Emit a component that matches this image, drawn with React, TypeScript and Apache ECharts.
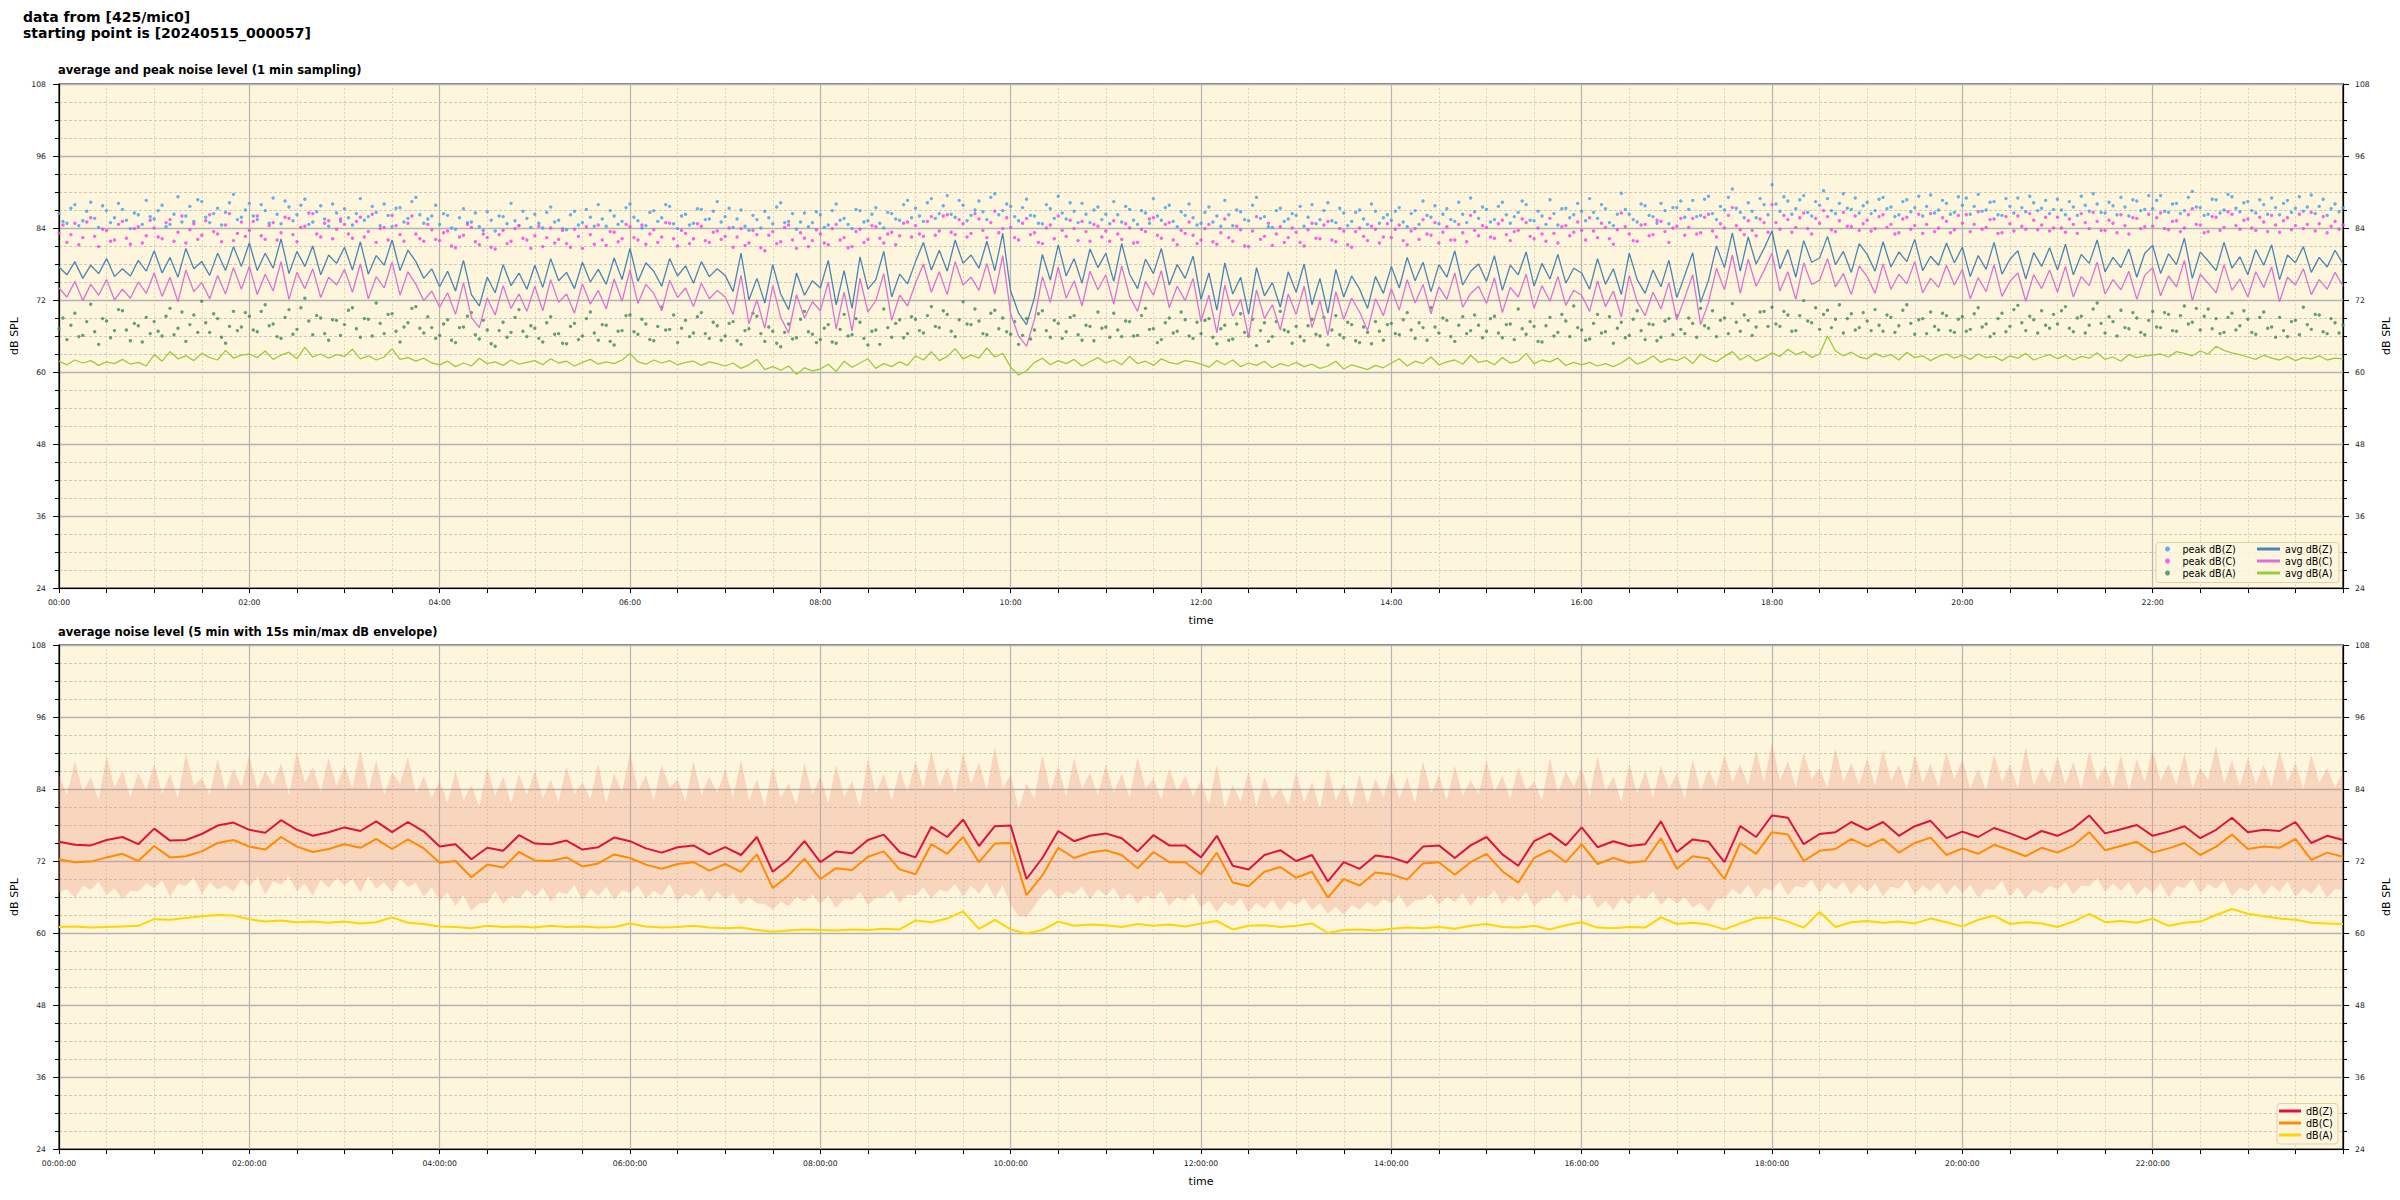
import React, { useEffect, useRef } from 'react';
import * as echarts from 'echarts';

const FONT = 'DejaVu Sans';

// ---- top chart: 1-min averages read every 5 min (00:00 .. 24:00) ----
const avgZ = [
  77.5, 76.2, 78.4, 75.6, 77.8, 76.4, 78.9, 75.9, 77.2, 76.0, 78.6, 76.8,
  80.2, 76.5, 79.1, 75.8, 80.6, 77.2, 78.4, 76.1, 79.8, 76.9, 80.9, 77.6,
  81.5, 76.9, 79.8, 77.3, 82.2, 76.4, 80.1, 77.6, 81.0, 76.2, 79.5, 78.1,
  80.8, 77.0, 81.7, 76.3, 79.4, 77.8, 82.0, 76.9, 80.3, 78.4, 75.6, 77.2,
  74.2, 76.8, 73.5, 78.6, 72.9, 71.0, 75.8, 73.2, 77.9, 74.4, 76.5, 73.8,
  77.8, 74.1, 78.9, 75.2, 76.6, 73.9, 78.3, 75.0, 77.1, 74.6, 79.0, 75.4,
  80.6, 75.1, 78.2, 76.8, 74.3, 78.9, 76.0, 77.7, 74.8, 78.4, 75.9, 77.2,
  76.1, 73.4, 79.8, 72.0, 75.6, 71.5, 77.9, 73.0, 70.4, 76.5, 72.8, 75.2,
  74.0, 78.6, 71.2, 76.9, 70.6, 79.2, 73.8, 75.4, 80.1, 72.5, 76.3, 74.7,
  78.4, 81.6, 77.0, 80.3, 76.8, 82.0, 78.1, 79.5, 77.3, 81.8, 76.9, 83.1,
  73.5, 69.8, 67.9, 72.4, 79.6, 75.3, 81.2, 76.0, 78.9, 74.8, 80.5, 77.4,
  79.8, 75.1, 81.4, 76.3, 73.9, 78.8, 76.4, 80.6, 74.5, 77.9, 75.6, 79.3,
  72.1, 76.5, 70.3, 78.2, 73.0, 75.8, 69.6, 77.4, 72.7, 74.9, 70.8, 76.7,
  73.3, 78.0, 71.2, 75.6, 69.8, 77.1, 72.5, 76.0, 73.8, 70.6, 75.9, 73.1,
  77.6, 74.0, 79.1, 75.2, 78.3, 73.4, 77.9, 75.8, 80.2, 74.5, 76.8, 78.0,
  75.1, 79.4, 73.6, 77.8, 76.2, 80.0, 74.3, 78.1, 75.5, 79.6, 74.8, 77.3,
  76.5, 73.8, 78.9, 74.6, 77.2, 72.9, 79.8, 75.4, 73.1, 77.0, 74.2, 78.6,
  72.4, 76.1, 79.9, 71.6, 75.3, 81.0, 77.4, 83.2, 76.8, 82.5, 78.0, 80.6,
  83.5, 77.2, 80.4, 75.8, 81.9, 78.3, 79.0, 82.6, 77.9, 80.1, 76.6, 81.4,
  79.6, 76.8, 81.7, 77.5, 80.0, 78.4, 82.1, 76.9, 79.3, 77.8, 81.5, 78.2,
  80.8, 75.9, 79.4, 77.1, 81.6, 76.3, 78.8, 80.2, 75.5, 79.9, 77.6, 80.7,
  77.0, 81.3, 76.2, 79.6, 78.1, 82.0, 76.7, 79.1, 77.4, 80.5, 75.8, 79.8,
  81.1, 76.4, 79.7, 77.9, 82.3, 75.6, 80.0, 78.5, 76.9, 81.6, 77.3, 79.2,
  76.2, 80.4, 77.8, 81.2, 75.4, 79.5, 78.2, 80.9, 76.6, 79.1, 77.5, 80.3,
  78.0,
];
const avgC = [
  74.0, 72.5, 75.1, 71.9, 74.6, 72.8, 75.4, 72.0, 73.8, 72.3, 75.0, 73.1,
  76.5, 72.6, 75.8, 71.7, 77.0, 73.4, 74.9, 72.2, 76.1, 73.0, 77.4, 73.8,
  77.6, 72.9, 76.3, 73.5, 78.4, 72.1, 76.6, 73.9, 77.2, 72.4, 75.8, 74.5,
  77.1, 73.3, 78.0, 72.2, 75.9, 74.0, 78.3, 72.8, 76.7, 74.6, 71.9, 73.5,
  70.8, 73.2, 69.6, 74.9, 69.1, 67.4, 72.3, 69.5, 74.4, 70.6, 73.0, 70.1,
  74.3, 70.2, 75.4, 71.6, 73.0, 69.8, 74.7, 71.3, 73.6, 70.5, 75.5, 71.8,
  77.0, 71.4, 74.6, 73.1, 70.2, 75.3, 72.4, 74.0, 70.9, 74.8, 72.2, 73.6,
  72.5, 69.6, 76.1, 68.0, 72.0, 67.3, 74.4, 69.1, 66.5, 72.9, 69.0, 71.7,
  70.2, 75.0, 67.2, 73.3, 66.8, 75.6, 70.0, 71.9, 76.4, 68.6, 72.8, 71.0,
  74.8, 78.0, 73.3, 76.7, 72.9, 78.4, 74.5, 75.8, 73.6, 78.1, 73.0, 79.4,
  69.7, 66.0, 64.3, 68.8, 75.9, 71.6, 77.5, 72.3, 75.2, 71.0, 76.8, 73.7,
  76.2, 71.3, 77.7, 72.6, 70.1, 75.1, 72.8, 76.9, 70.7, 74.3, 71.9, 75.6,
  68.4, 72.8, 66.5, 74.5, 69.3, 72.1, 65.8, 73.7, 68.9, 71.2, 67.0, 73.0,
  69.6, 74.3, 67.4, 71.9, 66.1, 73.4, 68.8, 72.3, 70.0, 66.9, 72.2, 69.4,
  73.9, 70.3, 75.4, 71.5, 74.6, 69.7, 74.2, 72.1, 76.5, 70.8, 73.1, 74.3,
  71.4, 75.7, 69.9, 74.1, 72.5, 76.3, 70.6, 74.4, 71.8, 75.9, 71.1, 73.6,
  72.8, 70.1, 75.2, 70.9, 73.5, 69.2, 76.1, 71.7, 69.4, 73.3, 70.5, 74.9,
  68.7, 72.4, 76.2, 67.9, 71.6, 77.3, 73.7, 79.5, 73.1, 78.8, 74.3, 76.9,
  79.8, 73.5, 76.7, 72.1, 78.2, 74.6, 75.3, 78.9, 74.2, 76.4, 72.9, 77.7,
  75.9, 73.1, 78.0, 73.8, 76.3, 74.7, 78.4, 73.2, 75.6, 74.1, 77.8, 74.5,
  77.1, 72.2, 75.7, 73.4, 77.9, 72.6, 75.1, 76.5, 71.8, 76.2, 73.9, 77.0,
  73.3, 77.6, 72.5, 75.9, 74.4, 78.3, 73.0, 75.4, 73.7, 76.8, 72.1, 76.1,
  77.4, 72.7, 76.0, 74.2, 78.6, 71.9, 76.3, 74.8, 73.2, 77.9, 73.6, 75.5,
  72.5, 76.7, 74.1, 77.5, 71.7, 75.8, 74.5, 77.2, 72.9, 75.4, 73.8, 76.6,
  74.3,
];
const avgA = [
  61.8, 61.2, 62.0, 61.5, 61.9, 61.1, 61.7, 61.4, 62.1, 61.3, 61.6, 61.0,
  62.9, 61.8, 63.4, 62.2, 62.7, 61.9, 63.1, 62.4, 62.0, 63.6, 62.3, 62.8,
  63.0, 62.4, 63.5, 62.1, 62.8, 63.3, 62.2, 64.1, 62.5, 63.0, 62.3, 62.9,
  62.6, 63.8, 62.2, 62.7, 62.0, 62.5, 63.9, 62.1, 62.4, 61.8, 62.3, 61.5,
  61.2, 61.8, 60.9, 61.5, 61.0, 62.3, 61.4, 61.7, 61.1, 62.0, 61.3, 61.6,
  61.9, 61.2, 62.2, 61.5, 61.8, 61.0, 61.6, 62.1, 61.3, 61.7, 61.4, 62.0,
  63.1, 61.7, 61.3, 62.0, 61.5, 61.9, 61.2, 61.6, 61.8, 61.1, 61.7, 61.4,
  61.0, 61.5, 60.6, 61.2, 62.1, 60.4, 60.9, 60.3, 61.0, 59.6, 60.7, 60.2,
  60.5, 61.3, 60.1, 61.8, 60.8, 61.5, 62.2, 60.6, 61.4, 60.9, 61.7, 61.1,
  62.7, 62.0, 63.4, 61.9, 62.6, 63.9, 62.2, 62.8, 62.3, 64.0, 62.5, 63.1,
  60.8, 59.5, 60.2, 61.6, 62.3, 61.2, 61.9, 61.4, 62.1, 61.0, 61.7, 62.4,
  61.5, 62.0, 61.2, 62.6, 61.4, 61.8, 61.1, 62.2, 61.6, 61.3, 61.9, 61.7,
  61.3, 60.8, 61.9, 61.2, 62.0, 60.9, 61.5, 61.1, 61.8, 60.7, 61.4, 61.0,
  61.6, 60.9, 61.3, 60.6, 61.0, 61.8, 60.5, 61.2, 60.8, 60.4, 61.1, 60.7,
  61.5, 62.2, 61.0, 61.8, 61.4, 62.5, 61.2, 61.7, 62.0, 61.3, 62.8, 61.6,
  61.9, 61.2, 62.4, 61.5, 61.8, 63.1, 61.4, 62.0, 61.7, 62.3, 61.1, 61.6,
  61.2, 61.6, 61.0, 61.4, 60.9, 61.5, 62.4, 61.3, 61.8, 62.7, 61.6, 62.2,
  61.9, 62.5, 61.4, 63.0, 62.2, 61.7, 62.6, 63.4, 62.0, 62.8, 61.8, 62.4,
  63.2, 62.6, 63.8, 62.9, 63.4, 62.4, 63.0, 66.0, 63.5, 62.7, 63.3, 62.5,
  62.2, 63.1, 62.5, 62.9, 62.0, 63.3, 62.4, 62.7, 61.9, 62.6, 63.0, 62.3,
  62.8, 62.1, 63.0, 62.4, 62.6, 61.9, 62.7, 62.3, 63.1, 62.0, 62.5, 62.9,
  62.2, 62.8, 62.0, 62.6, 62.3, 63.2, 62.1, 62.5, 61.8, 62.9, 62.4, 62.7,
  62.8, 63.0, 62.5, 63.4, 63.1, 62.7, 63.5, 63.0, 64.3, 63.6, 63.2, 62.9,
  62.5, 62.1, 62.8, 62.3, 62.0, 62.6, 61.9, 62.4, 62.2, 62.7, 62.0, 62.3,
  62.2,
];

// ---- top chart: 1-min peaks read every 2.5 min ----
const peakZ = [
  86.4, 85.1, 84.8, 87.3, 87.9, 84.4, 85.2, 86.8, 88.3, 85.6, 84.1, 87.7, 86.9, 84.9, 85.7, 88.1, 87.1, 85.3, 83.9, 86.5, 86.2, 84.6, 88.6, 85.9,
  85.5, 86.9, 87.8, 84.2, 84.6, 86.3, 89.2, 85.0, 86.0, 87.6, 85.1, 88.7, 88.4, 85.8, 84.9, 86.4, 87.3, 84.5, 86.6, 88.2, 89.6, 85.4, 85.8, 87.0,
  88.1, 86.0, 85.4, 87.9, 86.9, 84.8, 89.0, 86.3, 84.7, 88.5, 87.5, 85.2, 86.2, 87.8, 88.8, 84.6, 85.0, 86.7, 87.7, 85.5, 84.3, 88.0, 86.5, 85.1,
  87.2, 85.7, 84.5, 86.4, 88.9, 85.3, 85.9, 87.6, 86.6, 84.4, 88.0, 86.1, 84.2, 87.3, 87.4, 85.0, 85.6, 88.4, 89.1, 86.2, 84.8, 85.5, 86.0, 87.8,
  84.6, 86.4, 86.1, 84.0, 83.8, 85.7, 87.2, 84.9, 85.0, 86.5, 84.2, 83.6, 86.7, 85.3, 83.5, 86.0, 85.9, 84.7, 88.1, 85.2, 84.4, 86.8, 85.6, 84.1,
  86.3, 84.8, 84.0, 86.6, 87.5, 85.0, 85.3, 83.9, 83.7, 86.2, 86.8, 84.5, 84.9, 87.1, 85.8, 84.3, 87.9, 85.5, 84.3, 86.9, 86.0, 84.6, 85.1, 87.4,
  88.0, 85.8, 85.2, 84.0, 84.4, 86.6, 86.9, 85.1, 85.7, 87.9, 87.6, 84.7, 83.9, 86.0, 86.3, 84.5, 84.8, 87.2, 87.1, 85.4, 85.5, 86.8, 88.4, 85.0,
  85.9, 87.3, 84.1, 85.5, 87.0, 84.3, 83.6, 86.1, 85.4, 84.0, 86.8, 85.7, 84.7, 87.5, 88.2, 84.9, 85.1, 86.4, 83.8, 85.0, 86.5, 84.2, 84.9, 86.7,
  86.2, 84.1, 84.5, 86.9, 88.0, 85.3, 85.6, 84.6, 83.9, 87.1, 86.9, 85.0, 85.2, 86.3, 87.4, 84.8, 84.0, 86.6, 86.4, 85.5, 85.3, 87.9, 88.6, 85.7,
  87.3, 86.0, 85.1, 88.2, 88.9, 85.6, 86.4, 87.7, 89.4, 86.3, 85.8, 88.6, 87.8, 85.2, 86.1, 87.0, 88.5, 86.7, 85.4, 89.1, 89.7, 86.2, 86.9, 88.0,
  87.6, 85.9, 85.2, 87.4, 88.8, 86.1, 86.0, 84.8, 84.7, 87.9, 87.2, 85.6, 89.3, 86.5, 85.5, 88.2, 86.8, 84.9, 88.1, 86.3, 84.9, 87.0, 87.5, 85.4,
  86.3, 84.7, 88.4, 86.2, 85.0, 87.6, 87.1, 85.3, 84.6, 86.9, 86.5, 84.8, 88.9, 86.0, 85.3, 87.4, 87.8, 85.1, 84.2, 86.7, 86.1, 88.0, 85.7, 84.5,
  84.8, 86.6, 87.5, 85.0, 86.0, 84.3, 88.6, 86.2, 84.4, 87.0, 86.7, 85.4, 85.2, 87.8, 89.1, 85.6, 85.9, 84.2, 84.1, 86.9, 87.3, 85.1, 85.5, 86.4,
  86.1, 87.6, 84.3, 85.8, 87.9, 84.7, 85.4, 86.9, 88.2, 85.2, 84.9, 87.3, 86.5, 84.4, 85.1, 86.6, 87.0, 85.5, 84.6, 88.0, 86.8, 84.8, 85.7, 86.2,
  85.3, 86.8, 87.4, 85.0, 84.2, 86.4, 86.9, 84.6, 88.5, 86.1, 85.8, 87.7, 84.7, 86.3, 87.2, 85.4, 85.1, 88.3, 86.3, 84.9, 89.0, 86.7, 85.6, 87.5,
  87.1, 85.0, 85.4, 87.6, 88.3, 86.2, 84.8, 85.9, 86.6, 88.5, 87.9, 85.3, 85.2, 86.8, 86.0, 84.6, 88.7, 86.4, 84.5, 87.2, 87.3, 85.7, 86.2, 88.1,
  86.8, 85.2, 88.9, 86.6, 85.6, 87.9, 87.2, 84.9, 84.4, 86.3, 89.8, 87.1, 86.3, 85.4, 85.0, 88.0, 87.7, 86.1, 85.9, 84.8, 88.1, 86.9, 84.7, 87.4,
  87.4, 88.5, 85.8, 87.1, 88.6, 85.9, 86.1, 88.8, 89.3, 86.4, 85.4, 87.6, 87.0, 89.1, 90.5, 87.3, 86.6, 85.7, 88.2, 86.8, 85.7, 88.9, 87.9, 86.2,
  91.2, 88.0, 86.8, 89.2, 88.5, 86.3, 87.2, 88.7, 89.4, 86.6, 86.0, 88.4, 87.8, 90.2, 88.9, 86.9, 86.4, 88.1, 89.7, 87.3, 87.1, 89.0, 86.5, 87.7,
  88.3, 86.4, 86.9, 88.8, 89.1, 87.2, 87.5, 85.9, 86.2, 88.4, 88.7, 86.7, 87.4, 89.3, 86.0, 87.6, 89.5, 86.5, 87.0, 88.6, 88.1, 86.3, 86.6, 89.2,
  87.8, 89.0, 86.3, 87.6, 89.6, 86.8, 87.0, 88.3, 88.4, 86.2, 86.1, 88.9, 87.6, 86.5, 89.0, 87.4, 86.7, 89.3, 88.2, 86.9, 87.3, 88.6, 86.4, 87.1,
  88.8, 87.0, 86.2, 88.4, 87.5, 86.1, 89.3, 87.8, 86.8, 89.7, 88.0, 86.6, 86.5, 88.3, 87.7, 86.2, 89.1, 87.5, 86.0, 88.7, 88.5, 86.9, 87.1, 89.4,
  87.2, 88.6, 89.4, 86.8, 86.6, 88.0, 88.1, 86.4, 86.9, 89.1, 90.1, 87.5, 87.4, 86.1, 86.3, 88.8, 88.7, 86.5, 87.0, 89.6, 89.2, 87.3, 86.7, 88.2,
  88.4, 86.9, 86.5, 88.7, 87.9, 86.3, 89.0, 87.4, 86.2, 88.1, 88.6, 86.6, 87.3, 89.2, 86.8, 87.5, 89.5, 86.4, 87.6, 88.8, 86.1, 87.2, 88.0, 86.7,
  87.4,
];
const peakC = [
  83.1, 84.5, 81.6, 82.9, 84.8, 81.2, 82.4, 85.0, 85.7, 82.6, 80.9, 83.8, 83.6, 81.8, 82.0, 84.6, 85.1, 82.3, 81.3, 83.9, 84.2, 81.5, 82.7, 85.3,
  84.0, 82.5, 82.2, 84.9, 85.4, 81.8, 83.3, 86.0, 81.5, 83.7, 84.7, 82.1, 82.8, 85.2, 86.2, 83.4, 83.0, 81.7, 84.5, 86.4, 81.9, 83.1, 85.0, 82.6,
  83.6, 85.1, 86.0, 82.7, 82.1, 84.4, 84.9, 82.0, 83.2, 85.8, 85.6, 82.9, 81.7, 84.1, 84.3, 86.5, 86.4, 83.0, 82.5, 84.8, 85.2, 82.2, 83.8, 85.5,
  84.6, 83.0, 82.3, 85.1, 85.8, 82.5, 83.4, 86.3, 81.6, 83.9, 84.1, 82.0, 86.1, 84.4, 82.9, 81.8, 84.8, 86.0, 83.0, 82.2, 81.8, 84.6, 83.7, 82.1,
  81.9, 83.2, 83.5, 81.0, 80.7, 82.5, 82.8, 84.6, 84.1, 81.7, 81.2, 83.0, 82.4, 80.8, 80.5, 82.9, 83.6, 81.4, 81.8, 83.9, 84.4, 82.3, 82.0, 80.6,
  82.7, 84.3, 80.9, 82.4, 84.0, 81.5, 82.1, 83.6, 81.4, 80.8, 83.8, 82.6, 80.6, 84.2, 82.9, 81.3, 84.5, 82.0, 81.1, 83.4, 83.3, 81.7, 82.2, 84.6,
  84.2, 82.4, 82.0, 84.5, 81.3, 83.0, 83.7, 81.6, 82.5, 84.9, 84.8, 82.2, 81.0, 83.6, 83.1, 81.4, 82.2, 84.7, 84.3, 81.9, 81.6, 83.3, 83.5, 82.1,
  82.6, 84.0, 80.8, 82.5, 83.9, 81.1, 81.5, 83.6, 82.9, 80.7, 80.2, 82.8, 83.4, 81.4, 81.7, 84.1, 84.5, 82.0, 80.6, 83.2, 82.3, 80.9, 81.9, 83.7,
  83.0, 81.5, 81.2, 83.9, 84.6, 82.0, 82.4, 80.7, 80.9, 83.4, 83.8, 81.6, 82.1, 84.4, 84.2, 82.3, 81.5, 83.0, 83.3, 81.2, 82.7, 84.8, 85.0, 82.5,
  84.4, 83.0, 82.6, 85.1, 85.9, 82.8, 83.5, 86.0, 86.2, 83.3, 82.9, 85.4, 84.7, 82.5, 83.1, 86.4, 85.5, 83.6, 82.4, 84.9, 86.8, 83.2, 83.9, 85.7,
  84.1, 82.4, 82.0, 84.8, 85.6, 82.9, 83.2, 81.6, 81.4, 84.0, 84.5, 82.2, 86.0, 83.6, 82.6, 85.3, 83.9, 81.9, 85.1, 83.4, 81.8, 84.6, 84.3, 82.5,
  83.5, 81.8, 85.2, 83.0, 82.1, 84.7, 84.0, 81.5, 81.6, 83.8, 83.4, 85.5, 85.7, 82.8, 82.3, 84.6, 84.9, 82.0, 81.2, 83.6, 83.1, 85.0, 82.8, 81.4,
  82.0, 83.9, 84.6, 81.7, 81.3, 83.2, 85.5, 82.4, 81.8, 84.3, 83.7, 81.0, 80.9, 83.5, 85.9, 82.1, 82.6, 84.8, 81.1, 83.0, 84.2, 81.6, 82.4, 84.0,
  83.3, 81.6, 81.0, 83.7, 84.8, 82.3, 82.2, 84.5, 85.1, 82.0, 81.7, 83.9, 83.5, 81.2, 80.8, 83.4, 84.0, 82.6, 81.9, 84.3, 83.8, 81.5, 82.5, 84.7,
  82.4, 83.8, 84.5, 81.9, 81.2, 83.5, 83.9, 82.1, 85.4, 83.0, 82.8, 84.9, 81.5, 83.3, 84.2, 82.0, 82.0, 84.6, 83.2, 81.7, 86.1, 83.6, 82.7, 84.4,
  84.1, 82.5, 82.3, 84.7, 85.3, 82.9, 81.9, 83.4, 83.6, 85.5, 84.9, 82.6, 82.2, 84.0, 83.0, 81.8, 85.6, 83.1, 81.5, 84.2, 84.4, 82.7, 83.3, 85.0,
  83.6, 82.0, 85.7, 83.5, 82.4, 84.8, 84.1, 82.2, 81.3, 83.7, 86.5, 84.2, 83.0, 81.9, 81.8, 84.5, 84.6, 82.7, 82.9, 85.3, 85.1, 83.4, 81.6, 84.0,
  84.3, 85.6, 82.8, 84.1, 85.6, 83.0, 83.2, 85.8, 86.3, 83.5, 82.5, 84.7, 84.0, 86.1, 87.4, 84.4, 83.7, 82.9, 85.2, 83.6, 82.7, 85.5, 84.9, 83.3,
  87.9, 84.9, 83.8, 86.1, 85.4, 83.3, 84.1, 85.7, 86.5, 83.9, 83.0, 85.6, 84.8, 86.9, 85.9, 83.7, 83.4, 85.2, 86.6, 84.3, 84.2, 86.0, 83.6, 84.7,
  85.3, 83.5, 83.9, 85.9, 86.2, 84.1, 84.6, 83.0, 83.2, 85.5, 85.8, 83.8, 84.4, 86.3, 83.1, 84.6, 86.4, 83.4, 84.0, 85.7, 85.1, 83.2, 83.7, 86.1,
  84.8, 86.2, 83.4, 84.6, 86.7, 83.8, 84.1, 85.4, 85.5, 83.1, 83.2, 85.9, 84.7, 83.5, 86.0, 84.3, 83.8, 86.4, 85.3, 83.7, 84.5, 85.8, 83.5, 84.0,
  85.8, 84.0, 83.3, 85.5, 84.6, 83.1, 86.4, 84.9, 83.9, 86.6, 85.1, 83.6, 83.6, 85.3, 84.8, 83.2, 86.2, 84.4, 83.0, 85.7, 85.6, 83.9, 84.2, 86.3,
  84.3, 85.7, 86.5, 83.9, 83.7, 85.1, 85.2, 83.4, 84.0, 86.2, 87.2, 84.6, 84.5, 83.2, 83.4, 85.9, 85.8, 83.6, 84.1, 86.7, 86.3, 84.4, 83.8, 85.3,
  85.5, 84.0, 83.6, 85.8, 85.0, 83.4, 86.1, 84.5, 83.3, 85.2, 85.7, 83.7, 84.4, 86.3, 83.9, 84.6, 86.6, 83.5, 84.7, 85.9, 83.2, 84.3, 85.1, 83.8,
  84.5,
];
const peakA = [
  67.2, 69.0, 65.4, 67.8, 69.8, 65.9, 66.1, 68.4, 71.3, 66.7, 64.6, 68.9, 68.5, 65.7, 66.9, 70.4, 70.2, 67.0, 65.2, 68.1, 67.7, 65.0, 69.1, 66.4,
  68.4, 66.8, 66.0, 69.3, 70.6, 66.2, 67.3, 70.0, 65.1, 67.9, 69.5, 66.6, 71.8, 68.2, 66.6, 69.7, 68.9, 65.8, 64.8, 67.6, 70.1, 66.9, 67.5, 69.9,
  69.3, 67.0, 66.7, 70.1, 71.2, 67.7, 68.0, 65.9, 65.6, 69.1, 70.4, 66.3, 67.1, 70.7, 72.3, 68.5, 66.2, 69.4, 69.0, 66.4, 65.3, 68.7, 68.6, 66.1,
  67.9, 70.3, 70.7, 67.2, 65.8, 68.9, 68.8, 66.0, 71.5, 68.1, 66.4, 69.6, 69.7, 66.8, 65.0, 67.5, 68.2, 70.6, 70.9, 67.3, 66.5, 69.2, 67.4, 65.6,
  66.1, 68.0, 68.7, 65.3, 64.9, 67.4, 67.5, 69.3, 69.9, 66.2, 65.5, 68.6, 67.0, 64.7, 64.3, 66.9, 68.3, 65.8, 66.6, 69.1, 70.4, 66.8, 65.9, 67.7,
  67.3, 65.6, 65.0, 68.2, 69.2, 66.3, 66.4, 64.8, 64.7, 67.6, 68.1, 65.4, 66.0, 68.9, 70.0, 66.5, 65.3, 67.9, 67.8, 65.1, 64.5, 66.8, 66.9, 69.4,
  69.5, 66.7, 66.3, 68.8, 68.0, 65.4, 65.2, 67.6, 70.8, 67.0, 67.1, 69.5, 64.9, 67.3, 68.6, 65.9, 66.5, 69.2, 69.9, 66.4, 65.6, 68.3, 67.7, 65.3,
  66.0, 68.1, 68.4, 65.2, 64.6, 66.9, 67.2, 69.8, 69.3, 66.4, 65.1, 67.5, 66.8, 64.8, 64.2, 66.6, 68.0, 65.5, 65.7, 68.8, 70.1, 66.7, 66.3, 64.9,
  65.4, 67.3, 67.9, 65.0, 64.8, 67.1, 69.6, 66.0, 66.2, 68.9, 68.3, 65.6, 64.5, 66.8, 67.0, 64.6, 70.5, 67.4, 65.8, 68.1, 68.7, 65.7, 66.4, 69.2,
  68.8, 66.9, 66.5, 69.4, 70.9, 67.6, 67.4, 70.2, 69.6, 66.8, 65.9, 68.7, 71.7, 68.0, 67.9, 70.5, 68.5, 66.4, 66.2, 69.8, 70.3, 67.2, 69.0, 66.7,
  66.3, 68.4, 64.6, 66.1, 68.9, 65.5, 67.0, 69.7, 70.2, 66.9, 65.8, 68.6, 68.1, 65.6, 66.7, 69.1, 69.4, 66.2, 65.3, 67.8, 67.6, 65.2, 70.0, 67.3,
  67.5, 65.8, 69.8, 67.0, 65.9, 68.5, 68.4, 66.0, 66.1, 69.4, 70.6, 67.1, 67.2, 64.9, 65.4, 68.2, 69.0, 66.5, 66.8, 70.0, 68.7, 66.0, 65.6, 68.3,
  66.4, 68.6, 68.9, 65.8, 64.7, 67.2, 67.8, 65.3, 65.5, 68.0, 69.7, 66.6, 66.0, 68.8, 64.4, 66.9, 68.2, 65.1, 65.9, 68.4, 70.1, 67.0, 66.7, 64.8,
  67.6, 65.9, 65.2, 67.7, 68.8, 66.3, 66.0, 69.1, 64.5, 67.0, 69.4, 66.2, 65.7, 68.3, 67.9, 65.2, 64.9, 67.5, 66.6, 64.7, 68.4, 66.8, 65.3, 67.9,
  68.1, 66.4, 66.2, 68.7, 69.9, 67.0, 65.6, 68.2, 67.4, 65.3, 70.7, 67.5, 66.5, 69.0, 68.6, 65.9, 65.1, 67.8, 69.2, 66.4, 66.9, 69.5, 67.8, 65.7,
  66.8, 68.9, 69.3, 66.5, 65.7, 67.9, 68.0, 65.4, 70.5, 67.2, 66.3, 68.4, 67.6, 65.1, 65.0, 67.7, 69.1, 66.0, 66.6, 69.6, 68.5, 65.9, 71.0, 67.4,
  67.0, 65.3, 65.5, 68.1, 69.6, 66.5, 66.7, 69.2, 64.8, 67.3, 68.3, 65.7, 66.1, 68.8, 70.2, 66.9, 65.4, 68.0, 67.9, 65.2, 65.8, 68.5, 68.9, 66.2,
  69.4, 67.1, 66.4, 69.0, 68.1, 65.8, 70.6, 67.7, 67.3, 70.2, 65.9, 68.6, 69.0, 66.4, 71.4, 68.3, 66.8, 69.5, 68.6, 66.1, 67.5, 70.0, 70.1, 67.6,
  70.8, 68.0, 67.6, 70.1, 69.5, 66.8, 66.9, 69.4, 71.9, 68.5, 68.2, 70.7, 67.1, 69.6, 70.3, 67.4, 68.8, 71.2, 66.5, 68.9, 69.7, 67.0, 67.4, 69.9,
  68.5, 66.9, 70.4, 67.8, 66.8, 69.5, 69.1, 66.6, 67.7, 70.3, 71.2, 68.1, 66.3, 68.7, 68.9, 66.4, 70.0, 67.6, 67.0, 69.8, 69.4, 66.9, 66.6, 68.8,
  69.2, 66.8, 67.1, 69.7, 70.7, 67.5, 68.0, 65.9, 66.4, 68.9, 69.8, 66.7, 67.6, 70.4, 71.1, 68.2, 66.9, 69.3, 68.7, 66.5, 70.2, 67.8, 67.3, 69.6,
  68.0, 70.2, 70.9, 67.3, 66.7, 69.0, 69.3, 66.5, 67.8, 70.5, 71.5, 68.1, 66.5, 69.2, 68.4, 66.0, 70.3, 67.4, 67.2, 69.9, 69.0, 66.6, 66.2, 68.6,
  70.1, 67.5, 67.4, 69.9, 69.6, 66.9, 66.8, 69.4, 71.0, 68.0, 68.3, 70.6, 67.0, 69.3, 70.5, 67.2, 68.9, 66.4, 66.6, 69.1, 69.8, 67.0, 67.7, 70.2,
  68.8, 66.6, 66.3, 69.1, 70.0, 67.3, 67.5, 65.8, 69.1, 66.9, 65.9, 68.4, 68.6, 66.2, 70.8, 67.9, 67.1, 69.6, 69.5, 66.7, 66.4, 68.9, 68.2, 66.5,
  67.8,
];

// ---- bottom chart: 15 s min/max envelope read every 5 min ----
const envMax = [
  86.2, 82.8, 88.5, 83.4, 85.9, 81.9, 89.3, 84.1, 87.0, 82.5, 86.6, 83.7,
  88.1, 83.0, 86.4, 82.2, 89.7, 84.5, 85.8, 82.9, 88.8, 83.6, 87.3, 84.2,
  89.4, 83.8, 86.9, 84.6, 88.2, 82.7, 90.1, 84.9, 87.5, 83.3, 89.0, 84.4,
  87.8, 84.0, 90.3, 83.5, 88.6, 82.8, 86.7, 84.8, 89.2, 83.1, 86.0, 82.4,
  85.3, 81.6, 86.8, 82.1, 84.5, 80.9, 87.4, 82.7, 85.9, 81.5, 86.3, 82.9,
  86.9, 82.3, 85.4, 81.8, 87.6, 83.0, 85.1, 82.2, 88.0, 81.4, 86.5, 83.3,
  89.8, 83.5, 86.2, 82.0, 87.9, 84.1, 85.6, 81.7, 88.4, 82.8, 86.0, 83.2,
  87.1, 82.4, 88.7, 81.9, 85.5, 80.8, 87.6, 82.5, 84.8, 81.2, 88.2, 82.9,
  86.0, 81.5, 87.8, 82.6, 85.2, 80.7, 88.9, 83.1, 86.4, 82.0, 87.0, 83.4,
  88.5, 83.9, 90.2, 84.3, 87.6, 83.0, 89.9, 84.7, 88.3, 83.6, 90.8, 84.1,
  86.3, 80.5, 84.9, 82.2, 89.5, 83.4, 87.7, 82.6, 88.9, 83.9, 86.6, 82.8,
  88.0, 83.2, 86.5, 82.4, 89.1, 84.0, 85.7, 82.1, 87.3, 83.5, 86.1, 82.7,
  85.4, 81.2, 87.9, 80.6, 84.6, 81.8, 86.8, 80.9, 85.9, 82.3, 84.2, 81.0,
  86.7, 81.6, 85.1, 80.4, 87.3, 82.0, 84.8, 80.8, 86.2, 81.3, 85.6, 82.5,
  87.0, 82.2, 85.8, 81.5, 88.4, 83.1, 86.3, 81.9, 87.7, 82.7, 85.4, 83.0,
  88.6, 83.4, 86.1, 82.3, 87.5, 83.8, 85.2, 82.0, 89.0, 83.2, 86.8, 84.3,
  87.4, 82.5, 89.3, 83.6, 86.0, 81.7, 88.1, 83.0, 86.9, 82.4, 87.8, 83.9,
  86.5, 82.1, 88.7, 83.5, 87.2, 84.2, 89.6, 85.0, 88.0, 84.4, 90.3, 84.8,
  91.5, 85.3, 88.6, 84.1, 89.9, 85.6, 87.4, 84.0, 90.6, 85.1, 88.2, 84.6,
  89.0, 84.3, 90.4, 85.2, 87.9, 83.8, 89.5, 84.9, 88.1, 84.2, 90.0, 85.4,
  88.8, 84.0, 87.3, 83.6, 89.6, 85.1, 88.0, 83.9, 90.7, 84.4, 87.6, 84.8,
  89.2, 84.6, 88.4, 83.7, 90.1, 85.3, 87.8, 84.1, 89.4, 83.5, 88.9, 85.0,
  90.4, 85.2, 88.1, 84.5, 89.8, 84.0, 87.5, 85.4, 90.9, 84.8, 88.6, 84.3,
  89.1, 84.7, 87.9, 84.2, 90.2, 85.0, 88.3, 83.8, 89.6, 84.9, 87.4, 84.1,
  86.8,
];
const envMin = [
  66.8, 67.4, 65.9, 67.9, 67.2, 68.6, 66.4, 67.5, 65.7, 67.1, 67.0, 68.3,
  67.5, 68.8, 66.2, 68.2, 67.9, 69.3, 66.6, 68.5, 67.3, 68.0, 66.9, 69.1,
  67.8, 69.4, 66.5, 68.7, 68.1, 69.5, 67.0, 68.3, 66.3, 68.9, 67.6, 69.2,
  68.0, 69.0, 66.8, 69.6, 67.4, 68.5, 66.9, 69.1, 67.7, 68.4, 66.1, 67.7,
  65.4, 66.8, 64.6, 66.4, 63.8, 65.0, 65.1, 67.1, 64.9, 66.2, 65.8, 67.3,
  66.0, 67.6, 65.3, 66.9, 66.5, 68.1, 65.5, 67.4, 66.2, 67.8, 65.6, 67.2,
  66.7, 68.0, 65.8, 67.1, 66.3, 68.3, 65.4, 66.6, 66.0, 67.5, 65.2, 67.0,
  65.6, 66.7, 64.8, 66.0, 65.0, 64.9, 63.9, 65.3, 64.5, 66.1, 65.3, 66.4,
  64.9, 66.3, 64.2, 65.8, 65.5, 66.9, 64.7, 65.9, 65.9, 67.2, 65.1, 66.5,
  66.3, 67.7, 65.7, 67.3, 66.9, 68.2, 66.1, 67.9, 66.6, 68.5, 65.9, 68.1,
  64.8, 62.9, 62.7, 64.6, 66.4, 67.5, 65.8, 67.0, 66.5, 67.8, 65.6, 67.4,
  66.2, 67.6, 65.5, 66.8, 64.9, 66.3, 65.7, 67.1, 64.6, 66.0, 65.4, 66.7,
  64.3, 65.5, 63.6, 65.3, 64.5, 65.9, 63.5, 65.1, 64.1, 65.6, 63.8, 65.4,
  64.7, 65.8, 63.9, 65.0, 63.3, 64.4, 63.1, 64.7, 64.0, 65.2, 64.4, 65.7,
  65.0, 66.4, 64.3, 65.5, 65.6, 66.6, 64.8, 66.1, 65.2, 66.8, 64.6, 66.2,
  65.8, 67.1, 64.9, 66.3, 65.3, 66.9, 64.5, 65.7, 65.9, 67.3, 65.1, 66.5,
  65.5, 66.6, 64.2, 65.4, 63.9, 65.9, 64.8, 66.4, 65.6, 67.0, 64.7, 66.1,
  64.9, 66.0, 64.3, 65.1, 63.6, 65.7, 65.8, 67.4, 66.4, 68.1, 66.0, 67.6,
  67.1, 68.7, 66.3, 67.9, 67.6, 69.0, 66.8, 68.4, 67.3, 68.6, 66.5, 68.2,
  66.9, 68.3, 66.2, 67.8, 67.4, 68.9, 66.6, 68.0, 67.0, 68.5, 66.4, 68.1,
  66.7, 68.1, 65.9, 67.4, 67.2, 68.8, 66.1, 67.7, 65.8, 67.3, 66.6, 67.9,
  67.3, 68.6, 66.5, 68.0, 67.8, 69.2, 66.9, 68.3, 67.1, 68.5, 66.3, 67.8,
  66.8, 68.4, 66.0, 67.9, 67.5, 69.1, 66.7, 68.2, 67.4, 68.8, 66.2, 67.6,
  67.0, 68.3, 66.4, 68.0, 66.9, 68.7, 66.1, 67.5, 66.6, 68.2, 65.9, 67.4,
  67.2,
];

// ---- bottom chart: 5-min averages read every 10 min ----
const dbZ = [
  75.2, 74.7, 74.6, 75.5, 76.0, 74.8, 77.4, 75.4, 75.5, 76.5, 77.9, 78.4,
  77.2, 76.7, 78.8, 77.2, 76.2, 76.8, 77.6, 77.0, 78.6, 76.8, 78.5, 76.9,
  74.4, 74.8, 72.3, 74.2, 73.7, 76.3, 74.9, 74.8, 75.4, 73.9, 74.3, 75.9,
  75.3, 74.1, 73.4, 74.3, 74.6, 73.1, 74.3, 73.0, 76.0, 70.2, 72.3, 75.3,
  71.8, 73.6, 73.3, 75.5, 76.4, 73.5, 72.6, 77.7, 76.0, 78.9, 74.5, 77.8,
  77.9, 69.0, 72.5, 77.0, 75.3, 76.2, 76.6, 75.8, 73.6, 76.3, 74.6, 74.6,
  72.6, 76.2, 71.2, 70.6, 73.0, 73.8, 72.0, 73.0, 68.6, 71.8, 70.7, 72.9,
  72.6, 71.7, 74.4, 74.6, 72.5, 74.6, 76.0, 73.1, 71.2, 75.3, 76.6, 74.6,
  77.6, 74.3, 75.3, 74.5, 74.8, 78.6, 73.5, 75.6, 75.2, 71.8, 77.8, 76.0,
  79.6, 79.2, 74.8, 76.5, 76.8, 78.5, 77.2, 78.5, 76.2, 77.8, 78.7, 75.8,
  76.9, 76.0, 77.5, 76.6, 75.6, 77.0, 76.2, 77.4, 79.6, 76.6, 77.3, 78.0,
  76.2, 76.9, 77.8, 75.8, 77.2, 79.2, 76.8, 77.2, 77.0, 78.5, 75.0, 76.2,
  75.5,
];
const dbC = [
  72.3, 71.8, 71.9, 72.6, 73.2, 72.0, 74.5, 72.6, 72.8, 73.6, 75.0, 75.5,
  74.4, 73.9, 76.0, 74.4, 73.5, 74.0, 74.8, 74.2, 75.7, 74.0, 75.6, 74.1,
  71.7, 72.0, 69.3, 71.4, 70.9, 73.5, 72.1, 72.0, 72.6, 71.1, 71.6, 73.1,
  72.5, 71.4, 70.7, 71.5, 71.8, 70.4, 71.5, 70.2, 73.1, 67.5, 69.6, 72.4,
  69.0, 70.8, 70.5, 72.7, 73.6, 70.6, 69.8, 74.8, 73.2, 76.0, 71.8, 74.9,
  75.0, 66.3, 69.6, 74.2, 72.5, 73.4, 73.8, 73.0, 70.8, 73.5, 71.8, 71.8,
  69.8, 73.4, 68.4, 67.8, 70.2, 71.0, 69.2, 70.2, 65.9, 69.0, 67.9, 70.1,
  69.8, 68.9, 71.6, 71.8, 69.7, 71.8, 73.2, 70.3, 68.4, 72.5, 73.8, 71.8,
  74.8, 71.5, 72.5, 71.7, 72.0, 75.8, 70.7, 72.8, 72.4, 69.0, 75.0, 73.2,
  76.8, 76.4, 72.0, 73.7, 74.0, 75.7, 74.4, 75.7, 73.4, 75.0, 75.9, 73.0,
  74.1, 73.2, 74.7, 73.8, 72.8, 74.2, 73.4, 74.6, 76.8, 73.8, 74.5, 75.2,
  73.4, 74.1, 75.0, 73.0, 74.4, 76.4, 74.0, 74.4, 74.2, 75.7, 72.2, 73.4,
  72.7,
];
const dbA = [
  61.0, 61.1, 60.9, 61.0, 61.1, 61.2, 62.3, 62.2, 62.5, 62.8, 63.0, 62.9,
  62.3, 61.9, 62.1, 61.8, 61.9, 61.7, 61.9, 61.6, 61.8, 62.6, 61.7, 61.5,
  61.1, 61.0, 60.8, 61.2, 61.0, 61.1, 60.9, 61.2, 61.0, 61.1, 60.9, 61.0,
  61.6, 61.1, 60.9, 61.0, 61.2, 60.9, 60.8, 60.9, 60.5, 60.2, 60.4, 60.6,
  60.5, 60.4, 60.6, 60.5, 60.7, 60.6, 62.1, 61.8, 62.4, 63.6, 60.7, 62.2,
  60.6, 59.9, 60.5, 61.9, 61.2, 61.4, 61.3, 61.0, 61.5, 61.2, 61.4, 61.1,
  61.6, 62.0, 60.6, 61.2, 61.3, 61.0, 61.2, 61.6, 60.0, 60.5, 60.6, 60.4,
  60.7, 60.9, 60.8, 61.0, 60.7, 61.2, 61.5, 61.0, 60.9, 61.2, 60.6, 61.3,
  61.8, 60.9, 60.8, 61.0, 60.9, 62.6, 61.5, 61.7, 61.4, 60.6, 61.6, 62.5,
  62.6, 61.9, 60.9, 63.5, 61.0, 61.8, 62.0, 61.7, 61.9, 61.6, 62.4, 61.8,
  61.1, 62.2, 62.9, 61.5, 61.8, 61.6, 61.0, 61.9, 63.2, 61.8, 62.0, 61.7,
  62.4, 61.2, 61.7, 61.9, 63.0, 64.0, 63.2, 62.8, 62.4, 62.2, 61.7, 61.6,
  61.5,
];

const yTicks = [24, 36, 48, 60, 72, 84, 96, 108];
const hourTickLabels = ['00', '02', '04', '06', '08', '10', '12', '14', '16', '18', '20', '22'];

const STEP_AVG = 5; // minutes between read values
const STEP_PEAK = 2.5;
const STEP_LINE = 10;

const pad = (n: number) => (n < 10 ? '0' + n : '' + n);
const fmtHM = (v: number) => {
  if (v >= 1440 || v % 120 !== 0) return '';
  return hourTickLabels[v / 120] + ':' + pad(v % 60);
};
const fmtHMS = (v: number) => {
  const s = fmtHM(v);
  return s ? s + ':00' : '';
};

const toPairs = (arr: number[], step: number) => arr.map((v, i) => [i * step, v]);

const GRID_L = 59;
const GRID_W = 2284;
const GRID_H = 504;

const tickLabel = { fontSize: 7.7, fontFamily: FONT, color: '#222' };

function xAxisFor(gridIndex: number, fmt: (v: number) => string) {
  return {
    type: 'value',
    gridIndex,
    min: 0,
    max: 1440,
    interval: 120,
    name: 'time',
    nameLocation: 'middle',
    nameGap: 27,
    nameTextStyle: { fontSize: 11, fontFamily: FONT, color: '#000' },
    axisLine: { onZero: false, lineStyle: { color: '#000', width: 1.2 } },
    axisTick: { length: 5, lineStyle: { color: '#000' } },
    minorTick: { show: true, splitNumber: 4, length: 5, lineStyle: { color: '#000' } },
    axisLabel: { ...tickLabel, margin: 10, formatter: fmt, showMaxLabel: false },
    splitLine: { show: true, lineStyle: { color: '#b4b4b4', width: 1.2 } },
    minorSplitLine: { show: true, lineStyle: { color: '#d6ccb0', width: 0.8, type: [2, 2] } },
  };
}

function yAxisFor(gridIndex: number, right: boolean) {
  return {
    type: 'value',
    gridIndex,
    position: right ? 'right' : 'left',
    min: yTicks[0],
    max: yTicks[yTicks.length - 1],
    interval: 12,
    name: 'dB SPL',
    nameLocation: 'middle',
    nameRotate: 90,
    nameGap: right ? 32 : 34,
    nameTextStyle: { fontSize: 11, fontFamily: FONT, color: '#000' },
    axisLine: { show: true, onZero: false, lineStyle: { color: '#000', width: 1.2 } },
    axisTick: { show: true, length: 6, lineStyle: { color: '#000' } },
    minorTick: { show: true, splitNumber: 4, length: 4, lineStyle: { color: '#000' } },
    axisLabel: { ...tickLabel, margin: right ? 12 : 13 },
    splitLine: { show: !right, lineStyle: { color: '#b4b4b4', width: 1.4 } },
    minorSplitLine: { show: !right, lineStyle: { color: '#c2bdb0', width: 0.8, type: [3, 2] } },
  };
}

const legendText = { fontSize: 9.6, fontFamily: FONT, color: '#000', lineHeight: 12 };
const ENV_FILL = 'rgba(235,140,120,0.3)';

export default function App() {
  const ref = useRef<HTMLDivElement>(null);
  useEffect(() => {
    const chart = echarts.init(ref.current!, null, { renderer: 'svg' });
    const envData = envMax.map((v, i) => [i * STEP_AVG, envMin[i], v]);
    const option: any = {
      animation: false,
      backgroundColor: '#ffffff',
      textStyle: { fontFamily: FONT },
      title: [
        {
          text: 'data from [425/mic0]\nstarting point is [20240515_000057]',
          left: 23, top: 9, padding: 0,
          textStyle: { fontSize: 14, fontWeight: 'bold', fontFamily: FONT, color: '#000', lineHeight: 16 },
        },
        {
          text: 'average and peak noise level (1 min sampling)',
          left: 58, top: 64, padding: 0,
          textStyle: { fontSize: 11.5, fontWeight: 'bold', fontFamily: FONT, color: '#000' },
        },
        {
          text: 'average noise level (5 min with 15s min/max dB envelope)',
          left: 58, top: 626, padding: 0,
          textStyle: { fontSize: 11.5, fontWeight: 'bold', fontFamily: FONT, color: '#000' },
        },
      ],
      grid: [
        { left: GRID_L, top: 84, width: GRID_W, height: GRID_H, show: true, backgroundColor: '#fdf6dc', borderColor: '#000', borderWidth: 1.2 },
        { left: GRID_L, top: 645, width: GRID_W, height: GRID_H, show: true, backgroundColor: '#fdf6dc', borderColor: '#000', borderWidth: 1.2 },
      ],
      xAxis: [xAxisFor(0, fmtHM), xAxisFor(1, fmtHMS)],
      yAxis: [yAxisFor(0, false), yAxisFor(0, true), yAxisFor(1, false), yAxisFor(1, true)],
      legend: [
        {
          data: ['peak dB(Z)', 'peak dB(C)', 'peak dB(A)'],
          orient: 'vertical', left: 2165, top: 543, padding: 0, itemGap: 0,
          icon: 'circle', itemWidth: 20, itemHeight: 5,
          textStyle: legendText, selectedMode: false, z: 20,
        },
        {
          data: ['avg dB(Z)', 'avg dB(C)', 'avg dB(A)'],
          orient: 'vertical', left: 2257, top: 543, padding: 0, itemGap: 0,
          icon: 'rect', itemWidth: 23, itemHeight: 3,
          textStyle: legendText, selectedMode: false, z: 20,
        },
        {
          data: ['dB(Z)', 'dB(C)', 'dB(A)'],
          orient: 'vertical', left: 2279, top: 1105, padding: 0, itemGap: 0,
          icon: 'rect', itemWidth: 22, itemHeight: 3,
          textStyle: legendText, selectedMode: false, z: 20,
        },
      ],
      graphic: [
        {
          type: 'rect', z: 10,
          shape: { x: 2156, y: 542.5, width: 183, height: 40, r: 3 },
          style: { fill: 'rgba(253,246,222,0.85)', stroke: '#e5cfa6', lineWidth: 1 },
        },
        {
          type: 'rect', z: 10,
          shape: { x: 2277, y: 1103.5, width: 61, height: 40.5, r: 3 },
          style: { fill: 'rgba(253,246,222,0.85)', stroke: '#e5cfa6', lineWidth: 1 },
        },
      ],
      series: [
        { name: 'peak dB(Z)', type: 'scatter', xAxisIndex: 0, yAxisIndex: 0, data: toPairs(peakZ, STEP_PEAK), symbolSize: 3.4, itemStyle: { color: '#3d9df2' }, silent: true },
        { name: 'peak dB(C)', type: 'scatter', xAxisIndex: 0, yAxisIndex: 0, data: toPairs(peakC, STEP_PEAK), symbolSize: 3.4, itemStyle: { color: '#f53cf0' }, silent: true },
        { name: 'peak dB(A)', type: 'scatter', xAxisIndex: 0, yAxisIndex: 0, data: toPairs(peakA, STEP_PEAK), symbolSize: 3.4, itemStyle: { color: '#3a8a5a' }, silent: true },
        { name: 'avg dB(Z)', type: 'line', xAxisIndex: 0, yAxisIndex: 0, data: toPairs(avgZ, STEP_AVG), showSymbol: false, color: '#4a84b6', lineStyle: { width: 1.3 }, silent: true },
        { name: 'avg dB(C)', type: 'line', xAxisIndex: 0, yAxisIndex: 0, data: toPairs(avgC, STEP_AVG), showSymbol: false, color: '#da72d4', lineStyle: { width: 1.3 }, silent: true },
        { name: 'avg dB(A)', type: 'line', xAxisIndex: 0, yAxisIndex: 0, data: toPairs(avgA, STEP_AVG), showSymbol: false, color: '#9ccb3a', lineStyle: { width: 1.3 }, silent: true },
        {
          name: 'envelope', type: 'custom', xAxisIndex: 1, yAxisIndex: 2, data: envData,
          encode: { x: 0, y: [1, 2] }, silent: true, z: 1, clip: true,
          renderItem: (params: any, api: any) => {
            if (params.dataIndex !== 0) return null;
            const upper = envData.map((d) => api.coord([d[0], d[2]]));
            const lower = envData.map((d) => api.coord([d[0], d[1]])).reverse();
            return {
              type: 'polygon',
              shape: { points: upper.concat(lower) },
              style: { fill: ENV_FILL, stroke: 'rgba(235,140,120,0.18)', lineWidth: 0.6 },
            };
          },
        },
        { name: 'dB(Z)', type: 'line', xAxisIndex: 1, yAxisIndex: 2, data: toPairs(dbZ, STEP_LINE), showSymbol: false, color: '#dc143c', lineStyle: { width: 2 }, silent: true, z: 3 },
        { name: 'dB(C)', type: 'line', xAxisIndex: 1, yAxisIndex: 2, data: toPairs(dbC, STEP_LINE), showSymbol: false, color: '#ff8c00', lineStyle: { width: 2 }, silent: true, z: 3 },
        { name: 'dB(A)', type: 'line', xAxisIndex: 1, yAxisIndex: 2, data: toPairs(dbA, STEP_LINE), showSymbol: false, color: '#ffd400', lineStyle: { width: 2 }, silent: true, z: 3 },
      ],
    };
    chart.setOption(option);
    return () => chart.dispose();
  }, []);
  return (
    <div
      ref={ref}
      style={{ position: 'fixed', left: 0, top: 0, width: 2400, height: 1200, background: '#fff' }}
    />
  );
}
